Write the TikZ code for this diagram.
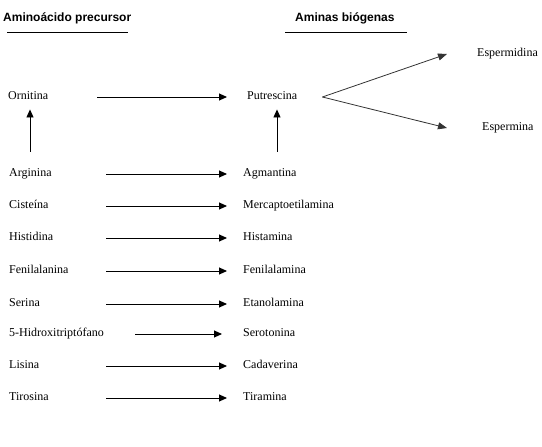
\documentclass[tikz,border=0pt]{standalone}
\usepackage{fontspec}
\setmainfont{Liberation Serif}
\newfontfamily\headfont{Liberation Sans}
\usetikzlibrary{arrows.meta,positioning}

\begin{document}
\begin{tikzpicture}[x=1pt, y=-1pt,
  lbl/.style={anchor=west, inner sep=0pt, text height=8pt, text depth=2.5pt,
    font=\fontsize{12}{14}\selectfont},
  head/.style={anchor=west, inner sep=0pt, font=\headfont\bfseries\fontsize{12}{14}\selectfont},
  rule/.style={line width=0.9pt},
  conv/.style={line width=0.9pt, -{Triangle[length=8pt, width=7pt]}},
  fork/.style={line width=0.8pt, black!80, -{Triangle[length=9pt, width=7pt]}},
]
\useasboundingbox (0,0) rectangle (542,447);

% --- headings ---
\node[head] (hpre) at (3,18) {Aminoácido precursor};
\node[head] (hami) at (295,18) {Aminas biógenas};
\draw[rule] (7,32) -- (128,32);
\draw[rule] (285,32) -- (407,32);

% --- columns for arrow tails ---
\coordinate (colA) at (106,0);
\coordinate (colB) at (97,0);
\coordinate (colC) at (135,0);
\coordinate (colL) at (30,0);
\coordinate (colR) at (277,0);

% --- precursors ---
\node[lbl] (orn) at (8,97) {Ornitina};
\node[lbl] (arg) at (9,174) {Arginina};
\node[lbl] (cis) at (9,206) {Cisteína};
\node[lbl] (his) at (9,238) {Histidina};
\node[lbl] (fen) at (9,271) {Fenilalanina};
\node[lbl] (ser) at (9,304) {Serina};
\node[lbl] (htp) at (9,334) {5-Hidroxitriptófano};
\node[lbl] (lis) at (9,366) {Lisina};
\node[lbl] (tir) at (9,398) {Tirosina};

% --- amines ---
\node[lbl] (put) at (247,97) {Putrescina};
\node[lbl] (agm) at (243,174) {Agmantina};
\node[lbl] (mer) at (243,206) {Mercaptoetilamina};
\node[lbl] (hsm) at (243,238) {Histamina};
\node[lbl] (fea) at (243,271) {Fenilalamina};
\node[lbl] (eta) at (243,304) {Etanolamina};
\node[lbl] (srt) at (243,334) {Serotonina};
\node[lbl] (cad) at (243,366) {Cadaverina};
\node[lbl] (tim) at (243,398) {Tiramina};
\node[lbl] (spd) at (477,54) {Espermidina};
\node[lbl] (spm) at (482,128) {Espermina};

% --- conversions ---
\draw[conv, shorten >=20pt] (orn -| colB) -- (put);
\draw[conv, shorten >=16pt] (arg -| colA) -- (agm);
\draw[conv, shorten >=16pt] (cis -| colA) -- (mer);
\draw[conv, shorten >=16pt] (his -| colA) -- (hsm);
\draw[conv, shorten >=16pt] (fen -| colA) -- (fea);
\draw[conv, shorten >=16pt] (ser -| colA) -- (eta);
\draw[conv, shorten >=21pt] (htp -| colC) -- (srt);
\draw[conv, shorten >=16pt] (lis -| colA) -- (cad);
\draw[conv, shorten >=16pt] (tir -| colA) -- (tim);

% --- upward steps ---
\draw[conv, shorten <=17pt, shorten >=7pt] (arg.north -| colL) -- (orn.south -| colL);
\draw[conv, shorten <=17pt, shorten >=7pt] (agm.north -| colR) -- (put.south -| colR);

% --- polyamine fork ---
\draw[fork] ([xshift=25pt]put.east) -- ([xshift=-30pt]spd.west);
\draw[fork] ([xshift=25pt]put.east) -- ([xshift=-35pt]spm.west);

\end{tikzpicture}
\end{document}
